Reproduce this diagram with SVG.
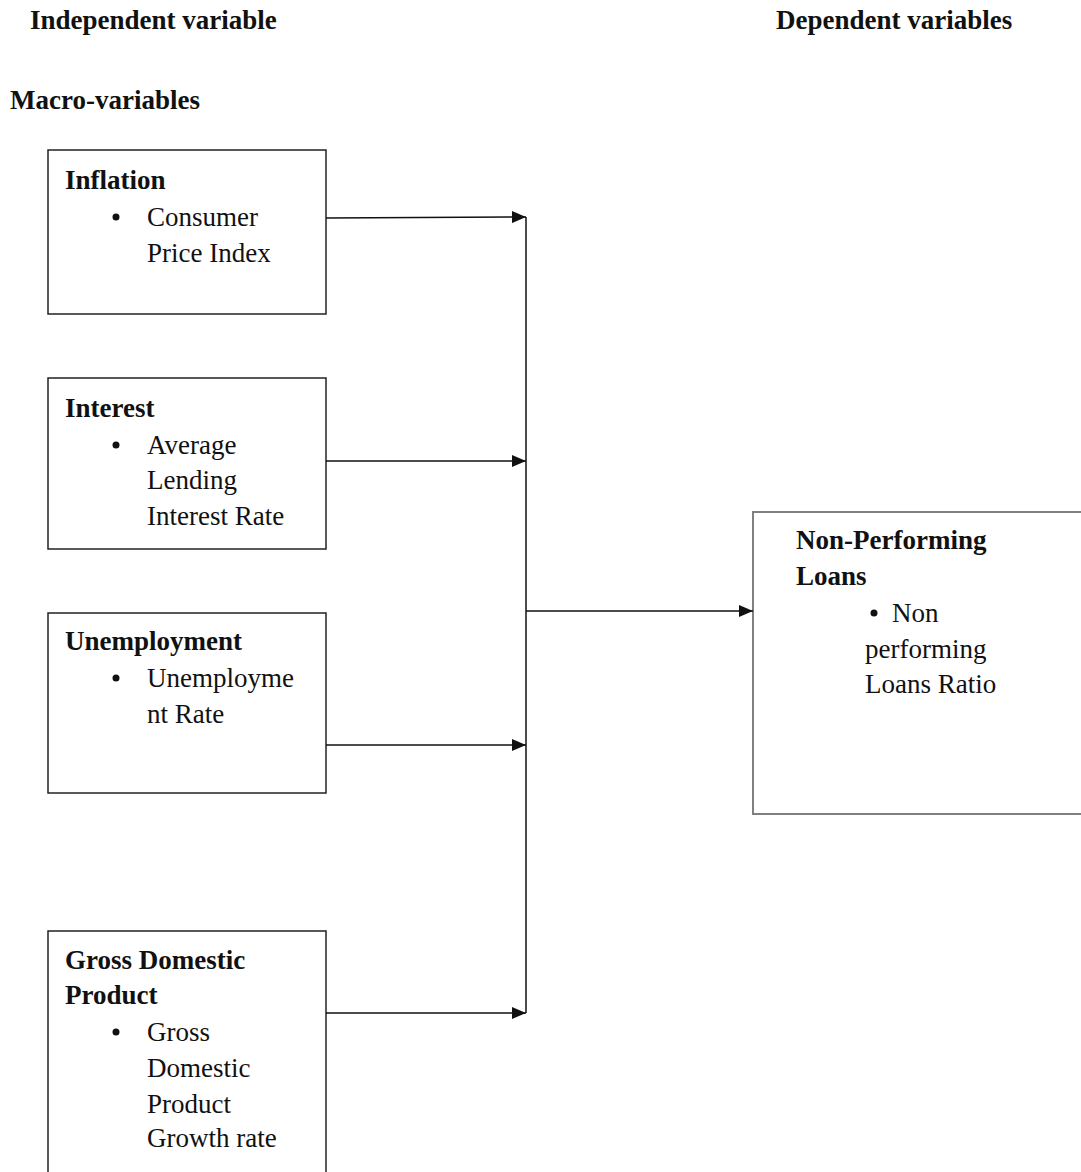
<svg xmlns="http://www.w3.org/2000/svg" width="1081" height="1172" viewBox="0 0 1081 1172">
<style>
text{font-family:'Liberation Serif','Times New Roman',Times,serif;font-size:27px;fill:#111}
.b{font-weight:bold}
.box{fill:#fff;stroke:#222;stroke-width:1.5}
.gbox{fill:#fff;stroke:#808080;stroke-width:2}
.ln{stroke:#111;stroke-width:1.5;fill:none}
</style>
<defs>
<marker id="ah" markerWidth="14" markerHeight="12" refX="14" refY="6" orient="auto" markerUnits="userSpaceOnUse">
<path d="M0,0 L14,6 L0,12 Z" fill="#111"/>
</marker>
</defs>
<rect width="1081" height="1172" fill="#fff"/>
<text class="b" x="30" y="29">Independent variable</text>
<text class="b" x="776" y="29">Dependent variables</text>
<text class="b" x="10" y="109">Macro-variables</text>

<g id="inflation">
<rect class="box" x="48" y="150" width="278" height="164"/>
<text class="b" x="65" y="189">Inflation</text>
<circle cx="116" cy="217" r="3.5" fill="#111"/>
<text x="147" y="226">Consumer</text>
<text x="147" y="262">Price Index</text>
</g>

<g id="interest">
<rect class="box" x="48" y="378" width="278" height="171"/>
<text class="b" x="65" y="417">Interest</text>
<circle cx="116" cy="445" r="3.5" fill="#111"/>
<text x="147" y="454">Average</text>
<text x="147" y="489">Lending</text>
<text x="147" y="525">Interest Rate</text>
</g>

<g id="unemployment">
<rect class="box" x="48" y="613" width="278" height="180"/>
<text class="b" x="65" y="650">Unemployment</text>
<circle cx="116" cy="678" r="3.5" fill="#111"/>
<text x="147" y="687">Unemployme</text>
<text x="147" y="723">nt Rate</text>
</g>

<g id="gdp">
<rect class="box" x="48" y="931" width="278" height="260"/>
<text class="b" x="65" y="969">Gross Domestic</text>
<text class="b" x="65" y="1004">Product</text>
<circle cx="116" cy="1032" r="3.5" fill="#111"/>
<text x="147" y="1041">Gross</text>
<text x="147" y="1077">Domestic</text>
<text x="147" y="1113">Product</text>
<text x="147" y="1147">Growth rate</text>
</g>

<g id="npl">
<rect class="gbox" x="753" y="512" width="340" height="302"/>
<text class="b" x="796" y="549">Non-Performing</text>
<text class="b" x="796" y="585">Loans</text>
<circle cx="874" cy="613" r="3.5" fill="#111"/>
<text x="892" y="622">Non</text>
<text x="865" y="658">performing</text>
<text x="865" y="693">Loans Ratio</text>
</g>

<g id="connectors">
<line class="ln" x1="526" y1="217" x2="526" y2="1013"/>
<line class="ln" x1="326" y1="218" x2="526" y2="217" marker-end="url(#ah)"/>
<line class="ln" x1="326" y1="461" x2="526" y2="461" marker-end="url(#ah)"/>
<line class="ln" x1="326" y1="745" x2="526" y2="745" marker-end="url(#ah)"/>
<line class="ln" x1="326" y1="1013" x2="526" y2="1013" marker-end="url(#ah)"/>
<line class="ln" x1="526" y1="611" x2="753" y2="611" marker-end="url(#ah)"/>
</g>
</svg>
